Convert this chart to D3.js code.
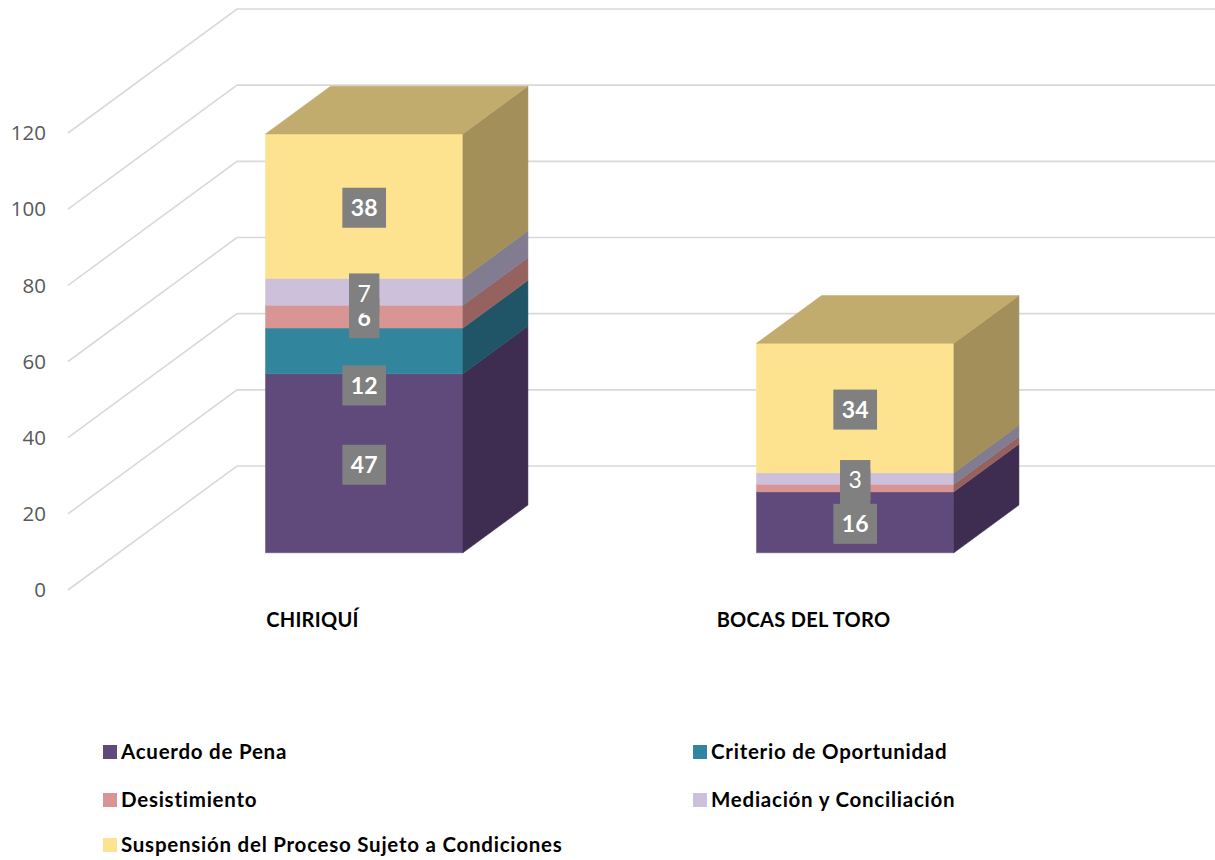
<!DOCTYPE html>
<html><head><meta charset="utf-8">
<script src="https://cdn.jsdelivr.net/npm/d3@7"></script>
<style>body{margin:0;background:#fff;} svg{display:block}</style>
</head><body><svg id="c" width="1215" height="860"></svg>
<script>
// ---- data ----
const categories = ["CHIRIQUÍ", "BOCAS DEL TORO"];
const seriesNames = ["Acuerdo de Pena", "Criterio de Oportunidad", "Desistimiento", "Mediación y Conciliación", "Suspensión del Proceso Sujeto a Condiciones"];
const acuerdoDePena = [47, 16];
const criterioDeOportunidad = [12, 0];
const desistimiento = [6, 2];
const mediacionYConciliacion = [7, 3];
const suspensionDelProceso = [38, 34];
const yTicks = [0, 20, 40, 60, 80, 100, 120];

// ---- styles ----
const frontColors = ["#5f4a7b", "#31859c", "#d99594", "#ccc0da", "#fde28f"];
const sideColors  = ["#3e2d51", "#1f5566", "#96625f", "#827c91", "#a38f5a"];
const topColor = "#c1ab6d";
const labelWeights = [700, 700, 700, 400, 700];
// label nudges (px, downwards) as placed in the reference: [series][category]
const labelNudge = [[0, 0], [33, 0], [0, 0], [0, 0], [0, 0]];

const seriesValues = [acuerdoDePena, criterioDeOportunidad, desistimiento, mediacionYConciliacion, suspensionDelProceso];
const rows = categories.map((c, i) => {
  const r = {cat: c};
  seriesNames.forEach((s, k) => r[s] = seriesValues[k][i]);
  return r;
});
const stacked = d3.stack().keys(seriesNames)(rows);

const svg = d3.select("#c");
const x = d3.scaleBand().domain(categories).range([68, 1050]).padding(0);
const y = d3.scaleLinear().domain([0, 120]).range([590, 133]);
const DX = 169, DY = 124;
const f0 = 0.30, f1 = 0.685;
const barFrac = 0.402;
const proj = (xv, v, d) => [xv + d * DX, y(v) - d * DY];
const poly = pts => pts.map(p => p.join(",")).join(" ");

// gridlines
const grid = svg.append("g");
yTicks.forEach(t => {
  const a = proj(68, t, 0), b = proj(68, t, 1);
  grid.append("polyline")
    .attr("points", poly([a, b, [1215, b[1]]]))
    .attr("fill", "none").attr("stroke", "#d9d9d9").attr("stroke-width", 1.6);
});
// tick labels
svg.append("g").selectAll("text").data(yTicks).join("text")
  .attr("x", 46).attr("y", d => y(d)).attr("dy", "0.35em")
  .attr("text-anchor", "end").attr("fill", "#595959")
  .attr("font-family", "Open Sans, sans-serif").attr("font-size", 20.5)
  .text(d => d);

// bars
const bars = svg.append("g");
categories.forEach((cat, i) => {
  const cx = x(cat) + x.bandwidth() / 2;
  const bw = x.bandwidth() * barFrac;
  const xl = cx - bw / 2, xr = cx + bw / 2;
  let lastK = -1;
  stacked.forEach((s, k) => { if (s[i][1] - s[i][0] > 0) lastK = k; });
  stacked.forEach((s, k) => {
    const v0 = s[i][0], v1 = s[i][1];
    if (v1 - v0 <= 0) return;
    bars.append("polygon")
      .attr("points", poly([proj(xl, v0, f0), proj(xr, v0, f0), proj(xr, v1, f0), proj(xl, v1, f0)]))
      .attr("fill", frontColors[k]).attr("stroke", frontColors[k]).attr("stroke-width", 0.5);
    bars.append("polygon")
      .attr("points", poly([proj(xr, v0, f0), proj(xr, v0, f1), proj(xr, v1, f1), proj(xr, v1, f0)]))
      .attr("fill", sideColors[k]).attr("stroke", sideColors[k]).attr("stroke-width", 0.5);
    if (k === lastK) {
      bars.append("polygon")
        .attr("points", poly([proj(xl, v1, f0), proj(xr, v1, f0), proj(xr, v1, f1), proj(xl, v1, f1)]))
        .attr("fill", topColor).attr("stroke", topColor).attr("stroke-width", 0.5);
    }
  });
});

// data labels
const labels = svg.append("g");
categories.forEach((cat, i) => {
  const cx = x(cat) + x.bandwidth() / 2 + f0 * DX;
  stacked.forEach((s, k) => {
    const v0 = s[i][0], v1 = s[i][1], val = v1 - v0;
    if (val <= 0) return;
    const cy = y((v0 + v1) / 2) - f0 * DY + 1.5 + labelNudge[k][i];
    const g = labels.append("g");
    const t = g.append("text").attr("x", cx).attr("y", cy).attr("dy", "0.36em")
      .attr("text-anchor", "middle").attr("fill", "#fff")
      .attr("font-family", "Lato, sans-serif").attr("font-weight", labelWeights[k])
      .attr("font-size", 23).text(val);
    const w = t.node().getComputedTextLength() + 17;
    g.insert("rect", "text").attr("x", cx - w / 2).attr("y", cy - 20)
      .attr("width", w).attr("height", 40).attr("fill", "#808080");
  });
});

// category labels
svg.append("g").selectAll("text").data(categories).join("text")
  .attr("x", d => x(d) + x.bandwidth() / 2 - 1).attr("y", 620).attr("dy", "0.35em")
  .attr("text-anchor", "middle").attr("fill", "#000")
  .attr("font-family", "Lato, sans-serif").attr("font-weight", 700).attr("font-size", 20)
  .attr("letter-spacing", 0.3)
  .text(d => d);

// legend
const legendPos = [[103, 752], [693, 752], [103, 800], [693, 800], [103, 845]];
const lg = svg.append("g");
seriesNames.forEach((s, k) => {
  const [lx, ly] = legendPos[k];
  lg.append("rect").attr("x", lx).attr("y", ly - 7).attr("width", 14).attr("height", 14).attr("fill", frontColors[k]);
  lg.append("text").attr("x", lx + 18).attr("y", ly).attr("dy", "0.35em")
    .attr("fill", "#000").attr("font-family", "Lato, sans-serif").attr("font-weight", 700)
    .attr("font-size", 20.5).attr("letter-spacing", 0.75).text(s);
});
</script></body></html>
